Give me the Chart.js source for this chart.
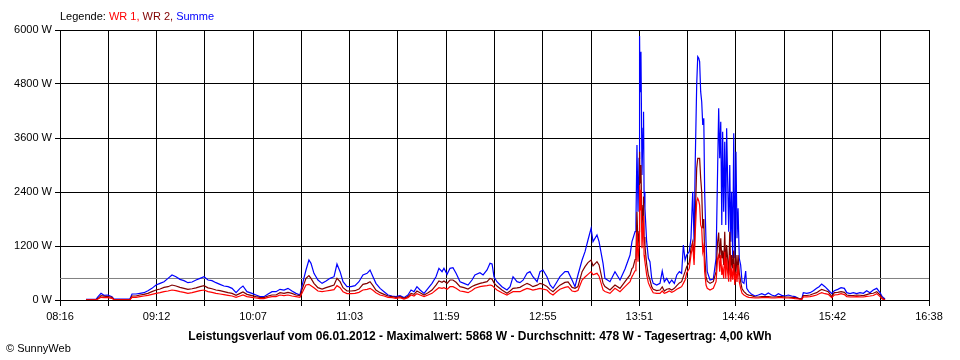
<!DOCTYPE html>
<html><head><meta charset="utf-8">
<script src="https://cdn.jsdelivr.net/npm/chart.js@4.4.1/dist/chart.umd.min.js"></script>
<style>html,body{margin:0;padding:0;background:#fff;}#wrap{width:960px;height:360px;position:relative;}</style>
</head><body><div id="wrap"><canvas id="c" width="960" height="360"></canvas></div>
<script>
// time of each sample in minutes after midnight
const times = [
511.0,513.3,516.8,518.0,519.7,521.4,523.7,526.0,527.2,530.7,536.4,537.6,539.9,542.2,544.5,546.8,549.1,551.5,553.8,556.1,558.4,560.7,563.0,565.3,567.6,569.9,572.3,574.6,576.9,579.2,581.5,583.8,586.1,588.4,590.7,593.1,595.4,597.7,600.0,601.7,604.0,606.9,609.2,611.5,613.8,616.2,618.5,620.8,
623.1,625.4,627.7,630.0,632.3,634.6,636.4,638.1,639.8,641.0,642.7,645.0,647.4,649.7,652.0,654.3,656.0,657.8,659.5,661.8,664.1,666.4,668.7,671.0,673.4,675.1,676.8,678.5,680.9,683.2,685.5,687.8,690.1,692.4,694.7,697.0,698.8,700.5,702.2,704.0,706.3,708.6,710.9,713.2,714.9,716.7,717.8,719.6,721.3,723.0,724.8,727.1,729.4,731.7,734.0,
735.7,738.6,740.4,742.7,744.4,745.6,746.7,748.4,751.3,754.2,756.0,757.7,760.0,761.7,763.5,765.8,767.5,769.2,771.6,773.3,775.0,777.3,779.1,780.8,783.1,784.8,787.7,789.5,791.8,793.5,795.2,797.6,799.3,801.0,802.8,803.9,806.2,807.4,809.7,810.8,813.7,816.6,819.5,822.4,825.3,
826.4,827.0,828.2,828.7,829.3,829.9,830.5,830.8,831.1,831.6,832.2,832.8,833.1,833.4,833.9,834.9,835.9,836.8,837.8,838.7,840.7,842.6,843.9,845.1,846.5,848.0,849.4,850.9,852.3,853.8,855.1,856.1,857.1,858.0,859.5,860.5,861.5,862.3,863.0,863.8,864.4,865.0,865.5,866.1,866.7,867.3,867.9,868.4,869.2,869.9,871.5,873.4,875.0,875.9,876.5,877.1,877.7,878.3,878.8,879.4,880.0,880.6,881.1,881.7,882.3,882.9,883.5,884.0,884.6,885.2,885.8,886.5,887.1,887.7,888.4,889.2,890.0,891.1,892.1,892.7,893.9,895.6,
897.5,899.4,901.4,903.3,905.2,907.1,909.0,911.0,912.9,914.8,916.7,918.7,920.6,922.5,924.5,925.4,927.4,929.3,931.2,933.1,934.5,936.0,937.9,939.8,941.8,943.3,945.3,947.2,949.1,950.5,952.4,954.3,956.2,958.1,960.1,962.0,963.9,965.8,967.8,969.7,971.0,972.6
];
// Summe (W)
const summe = [
15,15,15,74,148,104,111,74,20,20,20,133,133,148,163,207,259,333,370,407,481,556,518,459,430,385,400,444,481,518,444,430,385,348,311,296,259,163,259,311,185,148,111,74,74,133,185,185,
237,222,259,200,148,111,407,667,889,815,593,444,370,422,481,518,800,630,407,296,296,319,407,556,593,667,518,370,259,185,111,89,74,96,52,111,222,185,296,222,148,259,370,518,704,630,704,570,704,719,593,407,370,333,444,
556,607,556,667,815,800,518,407,296,222,296,518,407,385,440,593,630,518,407,630,667,518,333,259,407,518,630,630,444,296,556,889,1074,1333,1593,1296,1444,1296,815,481,407,630,444,689,1000,
1296,1370,1519,1700,3444,1963,3148,5868,4630,5519,2778,3815,4185,2407,2037,1296,926,852,481,370,333,370,644,407,481,370,444,370,556,630,593,1222,889,1000,1074,1370,2407,1296,3148,4778,5407,5370,5296,4630,4407,3889,4037,2407,1296,630,444,467,926,2926,4259,3148,3963,1667,3741,1963,3519,1667,3815,2630,1519,3000,1296,2407,926,3704,926,3296,1370,2037,926,778,407,370,644,259,185,126,
89,111,141,111,156,111,89,141,104,89,111,89,74,37,22,163,148,163,207,259,296,356,296,222,141,207,237,274,259,163,141,163,141,163,148,207,163,222,259,163,74,22
];
// WR 2 (W)
const wr2 = [
5,5,5,37,96,85,74,59,10,10,10,89,89,111,126,148,185,222,244,281,296,333,311,281,259,237,250,270,296,318,270,250,222,207,185,163,148,104,148,178,126,96,74,59,55,89,111,111,
163,148,170,148,111,96,296,481,541,481,370,274,244,274,304,333,481,407,274,200,200,207,244,348,370,407,319,222,163,126,89,74,59,74,37,74,148,126,200,163,111,163,222,333,422,393,422,370,444,444,393,296,274,244,300,
330,370,385,407,481,460,380,310,222,148,200,259,270,281,320,370,340,296,330,370,350,300,230,185,270,330,390,400,280,259,300,630,740,830,889,760,852,780,370,300,222,333,259,407,556,
700,720,900,1000,1963,1200,1519,3296,2600,3000,1600,2100,2300,1400,1200,800,550,450,296,240,210,222,290,200,240,250,222,260,320,380,407,520,630,740,830,1150,1296,926,1889,2926,3148,3148,3148,2704,2400,1593,1800,1000,519,420,370,407,630,1296,1500,926,1370,926,1100,778,1519,704,1222,900,556,1519,630,1000,700,1100,481,1000,600,1000,600,407,250,185,150,126,110,96,
67,67,74,74,74,67,67,74,74,67,67,60,52,37,22,96,100,111,140,163,200,237,210,185,74,163,170,185,170,111,96,100,111,105,96,120,141,150,185,111,44,7
];
// WR 1 (W)
const wr1 = [
3,3,3,22,59,52,52,37,5,5,5,59,59,74,89,104,126,148,163,185,200,222,207,185,170,148,163,185,207,222,185,170,148,133,119,104,89,59,89,111,74,59,44,30,30,59,74,74,
111,96,111,89,74,59,200,333,348,319,274,200,185,200,215,230,319,274,185,141,141,148,170,222,237,259,215,163,111,89,59,52,37,52,22,52,111,89,141,111,74,111,148,222,274,259,274,237,296,296,259,200,185,163,210,
260,296,310,320,333,320,280,222,160,111,150,185,185,185,220,259,240,222,240,259,240,222,150,111,190,240,280,296,200,185,210,444,510,570,630,560,593,530,222,190,148,259,185,296,407,
520,560,650,720,1519,850,1222,2556,2000,2450,1150,1700,1870,1000,850,560,380,300,222,160,148,148,200,148,170,200,170,200,240,270,296,370,444,600,700,1000,1222,778,1519,2185,2259,2200,2111,1667,1600,1074,1200,630,333,260,222,259,407,926,1000,630,1000,556,700,481,1074,481,926,600,407,1000,407,704,450,800,333,630,400,778,400,259,150,111,90,74,60,52,
44,44,52,52,52,44,44,52,52,44,44,40,30,22,15,67,70,74,90,111,140,163,140,126,52,111,120,141,120,74,67,70,74,70,67,80,89,100,141,74,22,0
];
const average = 478;
const xStart = 496, xEnd = 998; // 08:16 .. 16:38
const xTickLabels = ['08:16','09:12','10:07','11:03','11:59','12:55','13:51','14:46','15:42','16:38'];
const yTicks = [0,1200,2400,3600,4800,6000];
const legendParts = [['Legende: ','#000000'],['WR 1, ','#ff0000'],['WR 2, ','#800000'],['Summe','#0000ff']];
const titleText = 'Leistungsverlauf vom 06.01.2012 - Maximalwert: 5868 W - Durchschnitt: 478 W - Tagesertrag: 4,00 kWh';
const footerText = '\u00a9 SunnyWeb';

const FONT = '"Liberation Sans", Arial, sans-serif';
Chart.defaults.font.family = FONT;
Chart.defaults.font.size = 11;
Chart.defaults.color = '#000';

const pts = arr => times.map((t,i)=>({x:t,y:arr[i]}));

const textPlugin = {
  id:'texts',
  afterDraw(chart){
    const ctx = chart.ctx;
    ctx.save();
    ctx.textBaseline = 'middle';
    ctx.font = '11px ' + FONT;
    let x = 60;
    legendParts.forEach(([t,c])=>{ ctx.fillStyle = c; ctx.fillText(t, x, 17); x += ctx.measureText(t).width; });
    ctx.fillStyle = '#000';
    ctx.fillText(footerText, 6, 349);
    ctx.font = 'bold 12px ' + FONT;
    ctx.textAlign = 'center';
    ctx.fillText(titleText, 480, 337);
    ctx.restore();
  }
};

new Chart(document.getElementById('c'), {
  type:'line',
  data:{datasets:[
    {label:'WR 1', data:pts(wr1), borderColor:'#ff0000', borderWidth:1.2},
    {label:'WR 2', data:pts(wr2), borderColor:'#800000', borderWidth:1.2},
    {label:'Summe', data:pts(summe), borderColor:'#0000ff', borderWidth:1.2},
    {label:'Durchschnitt', data:[{x:xStart,y:average},{x:xEnd,y:average}], borderColor:'#808080', borderWidth:1}
  ]},
  options:{
    responsive:false, animation:false,
    layout:{padding:{top:30,right:31,left:0,bottom:0}},
    elements:{point:{radius:0}, line:{tension:0, fill:false}},
    plugins:{legend:{display:false}, tooltip:{enabled:false}, title:{display:false}},
    scales:{
      x:{type:'linear', min:xStart, max:xEnd,
        afterBuildTicks(ax){ ax.ticks = Array.from({length:19},(_,i)=>({value:xStart+i*(xEnd-xStart)/18})); },
        afterFit(s){ s.height = 60; },
        ticks:{autoSkip:false, maxRotation:0, padding:4, callback:(v,i)=> i%2===0 ? xTickLabels[i/2] : ''},
        grid:{color:'#000', lineWidth:1, tickLength:6},
        border:{color:'#000', width:1}
      },
      y:{min:0, max:6000,
        afterBuildTicks(ax){ ax.ticks = yTicks.map(v=>({value:v})); },
        afterFit(s){ s.width = 60; },
        ticks:{padding:3, callback:v=> v + ' W'},
        grid:{color:'#000', lineWidth:1, tickLength:5},
        border:{color:'#000', width:1}
      }
    }
  },
  plugins:[textPlugin]
});
</script></body></html>
